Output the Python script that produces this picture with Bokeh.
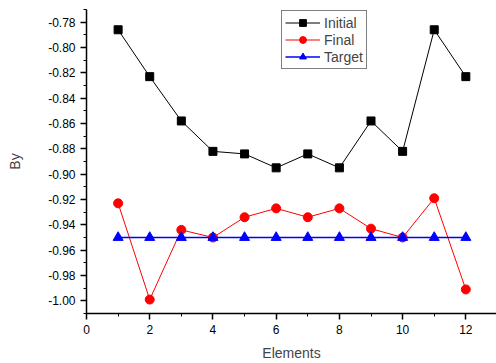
from bokeh.plotting import figure
from bokeh.models import SingleIntervalTicker, PrintfTickFormatter, Legend, LegendItem, Range1d
from bokeh.embed import file_html
from bokeh.resources import INLINE

elements = [1, 2, 3, 4, 5, 6, 7, 8, 9, 10, 11, 12]
initial = [-0.786, -0.823, -0.858, -0.882, -0.884, -0.895, -0.884, -0.895, -0.858, -0.882, -0.786, -0.823]
final = [-0.923, -0.999, -0.944, -0.950, -0.934, -0.927, -0.934, -0.927, -0.943, -0.950, -0.919, -0.991]
target = [-0.95] * 12

FONT = "Liberation Sans"

p = figure(width=496, height=363, output_backend="svg", toolbar_location=None,
           x_range=Range1d(0, 12.97), y_range=Range1d(-1.01, -0.77),
           min_border_left=86, min_border_right=0, min_border_top=9, min_border_bottom=50)
p.outline_line_color = None
p.xgrid.visible = False
p.ygrid.visible = False

r1l = p.line(elements, initial, line_color="black", line_width=1)
r1m = p.scatter(elements, initial, marker="square", size=8, fill_color="black", line_color="black")
r2l = p.line(elements, final, line_color="red", line_width=1)
r2m = p.scatter(elements, final, marker="circle", size=9, fill_color="red", line_color="red")
r3l = p.line(elements, target, line_color="blue", line_width=1.5)
r3m = p.scatter(elements, target, marker="triangle", size=10, fill_color="blue", line_color="blue")

p.xaxis.ticker = SingleIntervalTicker(interval=2, num_minor_ticks=2)
p.yaxis.ticker = SingleIntervalTicker(interval=0.02, num_minor_ticks=2)
p.yaxis.formatter = PrintfTickFormatter(format="%.2f")
p.xaxis.axis_label = "Elements"
p.yaxis.axis_label = "By"
for ax in (p.xaxis[0], p.yaxis[0]):
    ax.axis_label_text_font = FONT
    ax.axis_label_text_font_style = "normal"
    ax.axis_label_text_font_size = "14px"
    ax.major_label_text_font = FONT
    ax.major_label_text_font_size = "12px"
    ax.major_label_text_color = "black"
    ax.axis_line_color = "black"
    ax.axis_line_width = 1.5
    ax.major_tick_in = 0
    ax.major_tick_out = 6
    ax.minor_tick_in = 0
    ax.minor_tick_out = 3
    ax.major_tick_line_width = 1.5
p.xaxis.axis_label_standoff = 8
p.yaxis.axis_label_standoff = 22

legend = Legend(items=[
    LegendItem(label="Initial", renderers=[r1l, r1m]),
    LegendItem(label="Final", renderers=[r2l, r2m]),
    LegendItem(label="Target", renderers=[r3l, r3m]),
], location=(195, 244))
legend.border_line_color = "black"
legend.border_line_width = 1
legend.label_text_font = FONT
legend.label_text_font_size = "14px"
legend.glyph_width = 35
legend.glyph_height = 17
legend.label_height = 17
legend.spacing = 0
legend.padding = 3
legend.margin = 0
legend.label_standoff = 4
legend.background_fill_alpha = 1
p.add_layout(legend)

open("out.html", "w").write(file_html(p, INLINE))
